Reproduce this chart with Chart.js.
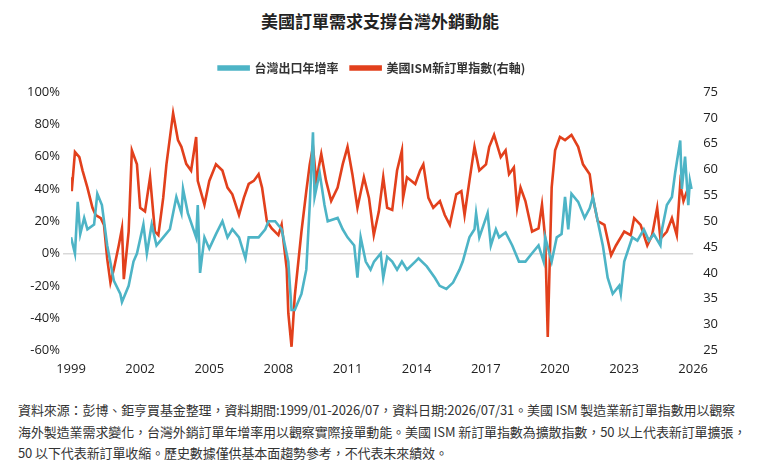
<!DOCTYPE html>
<html>
<head>
<meta charset="utf-8">
<script src="https://cdn.jsdelivr.net/npm/chart.js@4"></script>
<style>
  body { margin:0; background:#fff; font-family:"Noto Sans CJK TC","Noto Sans",sans-serif; }
  #title { position:absolute; top:8px; left:0; width:760px; text-align:center; font-size:17px; font-weight:bold; color:#222; }
  #wrap { position:absolute; top:50px; left:0; width:760px; height:330px; }
  #foot { position:absolute; top:399px; left:18px; width:745px; font-size:13px; letter-spacing:-0.1px; line-height:21.5px; color:#333; white-space:nowrap; }
</style>
</head>
<body>
<div id="title">美國訂單需求支撐台灣外銷動能</div>
<div id="wrap"><canvas id="c"></canvas></div>
<div id="foot">資料來源：彭博、鉅亨買基金整理，資料期間:1999/01-2026/07，資料日期:2026/07/31。美國 ISM 製造業新訂單指數用以觀察<br>海外製造業需求變化，台灣外銷訂單年增率用以觀察實際接單動能。美國 ISM 新訂單指數為擴散指數，50 以上代表新訂單擴張，<br>50 以下代表新訂單收縮。歷史數據僅供基本面趨勢參考，不代表未來績效。</div>
<script>
// 台灣出口年增率 (%)
const twDates = [1999.0,1999.17,1999.29,1999.4,1999.57,1999.71,2000.0,2000.14,2000.34,2000.57,2000.86,2001.14,2001.21,2001.5,2001.71,2001.86,2002.14,2002.29,2002.5,2002.71,2003.0,2003.29,2003.57,2003.79,2003.86,2004.07,2004.43,2004.5,2004.6,2004.79,2005.0,2005.29,2005.57,2005.79,2006.0,2006.29,2006.57,2006.71,2007.14,2007.43,2007.57,2007.86,2008.14,2008.43,2008.57,2008.71,2009.0,2009.21,2009.36,2009.5,2009.57,2009.79,2010.0,2010.14,2010.57,2010.79,2011.0,2011.29,2011.43,2011.57,2011.79,2012.0,
  2012.15,2012.44,2012.55,2012.72,2012.94,2013.15,2013.36,2013.58,2013.94,2014.08,2014.44,2014.79,2015.0,2015.29,2015.58,2015.86,2016.0,2016.29,2016.51,2016.58,2016.72,2017.08,2017.22,2017.44,2017.58,2017.86,2018.15,2018.44,2018.72,2019.0,2019.29,2019.51,2019.58,2019.86,2020.08,2020.29,2020.44,2020.58,2020.72,2021.01,2021.29,2021.51,2021.65,2021.86,2022.08,2022.29,2022.51,2022.79,2022.86,2023.01,2023.36,2023.58,2023.86,2024.08,2024.29,2024.58,2024.65,2024.86,2025.08,2025.22,2025.44,2025.51,2025.65,2025.79,2025.86,2025.93];
const twValues = [10,0,32,12,22,15,18,37,30,5,-17,-25,-30,-20,-5,0,18,0,18,5,10,15,35,25,40,25,10,30,-12,10,3,12,20,10,15,10,-3,10,10,15,20,20,15,-5,-35,-35,-25,-10,30,75,35,50,30,20,22,15,10,5,-15,10,-5,-10,
  -5,0,-15,-2,-5,-10,-5,-10,-5,-3,-8,-15,-20,-22,-18,-10,-5,10,15,25,10,25,5,15,10,13,5,-5,-5,0,5,-5,10,-5,10,12,35,15,37,32,22,28,35,20,5,-15,-25,-20,-25,-5,10,8,15,8,12,5,15,30,35,50,70,40,60,30,45,40];

// 美國ISM新訂單指數 (右軸)
const ismDates = [1999.0,1999.03,1999.17,1999.36,1999.5,1999.71,1999.93,2000.07,2000.29,2000.43,2000.57,2000.71,2000.86,2001.07,2001.21,2001.29,2001.5,2001.64,2001.86,2002.0,2002.21,2002.43,2002.64,2002.79,2003.0,2003.14,2003.43,2003.64,2003.79,2004.0,2004.21,2004.43,2004.5,2004.79,2005.0,2005.29,2005.57,2005.79,2006.0,2006.29,2006.5,2006.71,2006.93,2007.14,2007.29,2007.5,2007.71,2008.0,2008.14,2008.36,2008.43,2008.57,2008.71,2009.0,2009.21,2009.36,2009.5,2009.64,2009.86,2010.07,2010.29,2010.57,2010.79,2011.0,2011.21,2011.43,2011.71,2011.93,2012.14,
  2012.36,2012.55,2012.72,2012.94,2013.15,2013.36,2013.41,2013.58,2013.94,2014.15,2014.29,2014.51,2014.72,2015.01,2015.22,2015.44,2015.72,2015.94,2016.08,2016.29,2016.51,2016.72,2017.01,2017.15,2017.36,2017.65,2017.86,2018.01,2018.22,2018.36,2018.51,2018.72,2019.01,2019.29,2019.44,2019.58,2019.69,2019.86,2020.01,2020.22,2020.44,2020.72,2021.01,2021.22,2021.51,2021.65,2021.86,2022.15,2022.44,2022.65,2023.01,2023.29,2023.44,2023.72,2024.01,2024.22,2024.44,2024.58,2024.86,2025.08,2025.29,2025.44,2025.58,2025.79,2025.93];
const ismValues = [58.5,55.8,63.4,62.4,59.8,56.5,52.6,51.2,50.6,49.3,42.7,38.1,40.8,45.3,48.6,38.8,48,63.7,61,52.6,51.9,58.5,48,47.3,54.5,61,70.9,65.7,64.4,61.1,59.8,66.3,57.8,53.2,57.8,61,59.8,56.5,55.2,51.2,54.5,57.2,57.8,59.1,56.5,50,48.6,47.3,49.3,40.8,32.2,25.7,35.5,48,55.8,61,64.4,57.8,63,57.8,53.9,56.5,61,64.4,59.1,52.6,58.5,54.5,47.3,
  51.9,58.5,52.6,52.2,59.8,63.7,54.5,58.5,57.2,59.8,61,54.5,52.6,53.9,51.2,49.3,55.2,55.8,51.2,57.8,64.4,59.8,61,64.4,66.7,62.4,63.7,59.1,60.4,52.6,56.5,53.9,48,48.6,53.2,46.6,27.6,56.5,63.7,66.3,65.7,66.7,64.4,61,59.1,54.5,50,49.3,43.4,45.3,48,47.3,50.6,49.3,45.3,47.3,52.6,46.6,48,50.6,47.3,57.2,53.9,56.5,56.5];

const xTicks = [1999,2002,2005,2008,2011,2014,2017,2020,2023,2026];
const BLUE = '#4db4c6', RED = '#e2401c';
const pts = (xs, ys) => xs.map((x, i) => ({x, y: ys[i]}));
const tickFont = {family:'"Open Sans","Noto Sans",sans-serif', size:13};

new Chart(document.getElementById('c'), {
  type:'line',
  data:{datasets:[
    {label:'台灣出口年增率', data:pts(twDates, twValues), borderColor:BLUE, backgroundColor:BLUE, borderWidth:2.6, pointRadius:0, tension:0, yAxisID:'y'},
    {label:'美國ISM新訂單指數(右軸)', data:pts(ismDates, ismValues), borderColor:RED, backgroundColor:RED, borderWidth:2.6, pointRadius:0, tension:0, yAxisID:'y2'},
  ]},
  options:{
    responsive:true, maintainAspectRatio:false, animation:false,
    layout:{padding:{left:24, right:40, top:0, bottom:0}},
    plugins:{legend:{labels:{boxWidth:30, boxHeight:3, padding:12, color:'#333', font:{family:'"Noto Sans CJK TC",sans-serif', size:12, weight:'bold'}}}},
    scales:{
      x:{type:'linear', min:1999, max:2026, afterBuildTicks:ax => { ax.ticks = xTicks.map(v => ({value:v})); },
         grid:{display:false}, border:{display:false}, ticks:{color:'#222', font:tickFont, callback:v => String(v)}},
      y:{position:'left', min:-60, max:100, ticks:{stepSize:20, color:'#222', font:tickFont, callback:v => v + '%'},
         border:{display:false}, grid:{color:ctx => ctx.tick.value === 0 ? '#d8d8d8' : 'transparent', lineWidth:1.5}},
      y2:{position:'right', min:25, max:75, ticks:{stepSize:5, padding:2, color:'#222', font:tickFont},
         border:{display:false}, grid:{display:false}},
    }
  },
  plugins:[{id:'legendGap', beforeInit(chart){ const fit = chart.legend.fit; chart.legend.fit = function(){ fit.bind(chart.legend)(); this.height += 8; }; }}]
});
</script>
</body>
</html>
